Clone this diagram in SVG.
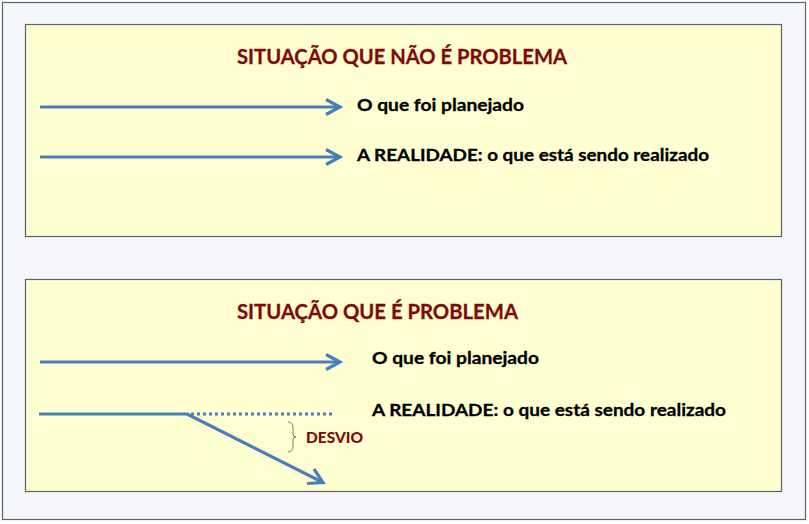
<svg xmlns="http://www.w3.org/2000/svg" width="809" height="524" viewBox="0 0 809 524">
<style>
.frame{fill:#F5F6F9;stroke:#5A6470;stroke-width:1.2}
.box{fill:#FFFFD1;stroke:#59626C;stroke-width:1.2}
.title{font-family:Lato,"Liberation Sans",sans-serif;font-weight:bold;font-size:21px;fill:#7F0A0A;stroke:#7F0A0A;stroke-width:0.3}
.lbl{font-family:Lato,"Liberation Sans",sans-serif;font-weight:bold;font-size:17.5px;fill:#000;stroke:#000;stroke-width:0.3}
.dev{font-family:Lato,"Liberation Sans",sans-serif;font-weight:900;font-size:15px;fill:#7F0A0A}
.ln{fill:none;stroke:#4A7EBB;stroke-width:3.2;stroke-linecap:butt}
.head{fill:none;stroke:#4A7EBB;stroke-width:3.2;stroke-linejoin:miter}
</style>
<rect class="frame" x="2.5" y="2.5" width="803" height="517"/>
<g id="box1">
<rect class="box" x="25.5" y="24.5" width="756" height="212"/>
<text class="title" x="237" y="64" textLength="330" lengthAdjust="spacingAndGlyphs">SITUAÇÃO QUE NÃO É PROBLEMA</text>
<text class="lbl" x="357" y="110.5" textLength="167" lengthAdjust="spacingAndGlyphs">O que foi planejado</text>
<text class="lbl" x="357" y="161" textLength="352" lengthAdjust="spacingAndGlyphs">A REALIDADE: o que está sendo realizado</text>
</g>
<g id="box2">
<rect class="box" x="25.5" y="279.5" width="756" height="212"/>
<text class="title" x="237" y="319" textLength="281" lengthAdjust="spacingAndGlyphs">SITUAÇÃO QUE É PROBLEMA</text>
<text class="lbl" x="372" y="364" textLength="167" lengthAdjust="spacingAndGlyphs">O que foi planejado</text>
<text class="lbl" x="372" y="416" textLength="354" lengthAdjust="spacingAndGlyphs">A REALIDADE: o que está sendo realizado</text>
<text class="dev" x="306" y="443" textLength="57" lengthAdjust="spacingAndGlyphs">DESVIO</text>
</g>
<g id="connectors">
<line class="ln" x1="40" y1="107" x2="339" y2="107"/>
<polyline class="head" points="326,99.5 340,107 326,114.5"/>
<line class="ln" x1="40" y1="157" x2="339" y2="157"/>
<polyline class="head" points="326,149.5 340,157 326,164.5"/>
<line class="ln" x1="40" y1="362" x2="339" y2="362"/>
<polyline class="head" points="326,354.5 340,362 326,369.5"/>
<line class="ln" x1="39" y1="414" x2="188" y2="414"/>
<line x1="191" y1="414" x2="333" y2="414" stroke="#4A7EBB" stroke-width="3.2" stroke-dasharray="3,3"/>
<line class="ln" x1="187" y1="414" x2="322" y2="482"/>
<polyline class="head" points="307,483.5 323,482.5 314,469"/>
<path d="M288,422 Q293,422 293,428 L293,434 Q293,437 296,437 Q293,437 293,440 L293,446 Q293,452 288,452" fill="none" stroke="#7A7A7A" stroke-width="1"/>
</g>
</svg>
